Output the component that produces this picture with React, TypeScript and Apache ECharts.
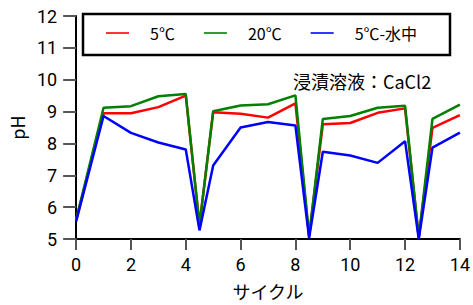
import React, { useEffect, useRef } from "react";
import * as echarts from "echarts";

const cycles = [0, 1, 2, 3, 4, 4.5, 5, 6, 7, 8, 8.5, 9, 10, 11, 12, 12.5, 13, 14];
const ph5C = [5.6, 8.95, 8.95, 9.14, 9.5, 5.45, 8.98, 8.93, 8.81, 9.26, 5.1, 8.6, 8.64, 8.96, 9.1, 5.05, 8.49, 8.89];
const ph20C = [5.6, 9.12, 9.17, 9.48, 9.55, 5.42, 9.01, 9.19, 9.23, 9.51, 5.1, 8.77, 8.86, 9.12, 9.18, 5.05, 8.77, 9.22];
const ph5CWater = [5.55, 8.86, 8.33, 8.03, 7.81, 5.27, 7.31, 8.5, 8.67, 8.56, 5.03, 7.74, 7.62, 7.39, 8.07, 5.0, 7.87, 8.34];
const seriesNames = ["5℃", "20℃", "5℃-水中"];
const seriesColors = ["#ff0000", "#008000", "#0000ff"];
const titleText = "浸漬溶液：CaCl2";
const xName = "サイクル";
const yName = "pH";

const NUM_FONT = "Roboto, 'Noto Sans CJK JP', sans-serif";
const CJK_FONT = "'Noto Sans CJK JP', sans-serif";

export default function App() {
  const ref = useRef<HTMLDivElement>(null);
  useEffect(() => {
    if (!ref.current) return;
    const chart = echarts.init(ref.current, undefined, { renderer: "svg" });
    const all = [ph5C, ph20C, ph5CWater];
    chart.setOption({
      animation: false,
      backgroundColor: "#ffffff",
      textStyle: { fontFamily: NUM_FONT },
      title: {
        text: titleText,
        left: 293,
        top: 72,
        padding: 0,
        textStyle: { fontFamily: CJK_FONT, fontSize: 18, fontWeight: "normal", color: "#000" },
      },
      graphic: [
        {
          type: "rect",
          shape: { x: 83, y: 14, width: 367, height: 41 },
          style: { fill: "none", stroke: "#000", lineWidth: 2.5 },
          z: 10,
        },
      ],
      legend: {
        left: 106,
        top: 25,
        orient: "horizontal",
        padding: 0,
        itemWidth: 23,
        itemHeight: 20,
        itemGap: 29,
        icon: "path://M0,9.2 L23,9.2 L23,10.8 L0,10.8 Z",
        textStyle: { fontFamily: CJK_FONT, fontSize: 16, color: "#000", padding: [0, 0, 0, 16] },
        data: seriesNames,
      },
      grid: { left: 75, right: 11, top: 16, bottom: 63, containLabel: false },
      xAxis: {
        type: "value",
        min: 0,
        max: 14,
        interval: 2,
        name: xName,
        nameLocation: "middle",
        nameGap: 43,
        nameTextStyle: { fontFamily: CJK_FONT, fontSize: 18, color: "#000" },
        axisLine: { show: true, lineStyle: { color: "#000", width: 2 } },
        axisTick: { show: true, length: 11, lineStyle: { color: "#555", width: 2 } },
        axisLabel: { fontSize: 18, color: "#000", margin: 16, fontFamily: NUM_FONT },
        splitLine: { show: false },
      },
      yAxis: {
        type: "value",
        min: 5,
        max: 12,
        interval: 1,
        name: yName,
        nameLocation: "middle",
        nameRotate: 90,
        nameGap: 47,
        nameTextStyle: { fontFamily: CJK_FONT, fontSize: 18, color: "#000" },
        axisLine: { show: true, lineStyle: { color: "#000", width: 2 } },
        axisTick: { show: true, length: 13, lineStyle: { color: "#555", width: 2 } },
        axisLabel: { fontSize: 18, color: "#000", margin: 19, fontFamily: NUM_FONT },
        splitLine: { show: false },
      },
      series: seriesNames.map((name, i) => ({
        name,
        type: "line",
        data: cycles.map((c, j) => [c, all[i][j]]),
        showSymbol: false,
        symbol: "none",
        lineStyle: { color: seriesColors[i], width: 2.5 },
        itemStyle: { color: seriesColors[i] },
        clip: false,
      })),
    });
    return () => chart.dispose();
  }, []);
  return <div ref={ref} style={{ width: 473, height: 305, position: "absolute", left: 0, top: 0 }} />;
}
